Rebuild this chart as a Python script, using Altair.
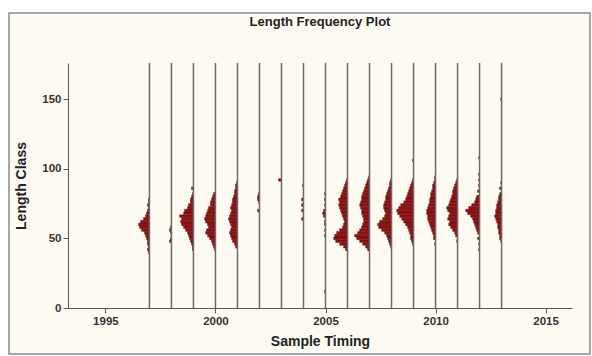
import altair as alt
import pandas as pd

# Sample years (vertical reference lines)
years = list(range(1997, 2014))

# Length-frequency per sample year: (length class, frequency)
lf_1997 = [(40,1),(42,2),(44,1),(46,2),(48,2),(50,3),(52,4),(54,5),(56,8),(58,10),(60,11),(62,9),(64,6),(66,4),(68,3),(70,2),(72,1),(74,2),(76,1),(78,1)]
lf_1998 = [(48,2),(50,1),(54,1),(56,2),(58,1)]
lf_1999 = [(42,1),(44,1),(46,2),(48,3),(50,4),(52,5),(54,6),(56,8),(58,10),(60,12),(62,13),(64,12),(66,14),(68,10),(70,9),(72,6),(74,5),(76,3),(78,3),(80,2),(82,1),(86,2)]
lf_2000 = [(42,1),(44,2),(46,3),(48,4),(50,6),(52,8),(54,10),(56,9),(58,7),(60,8),(62,10),(64,11),(66,10),(68,9),(70,8),(72,7),(74,5),(76,5),(78,4),(80,3),(82,2)]
lf_2001 = [(44,2),(46,3),(48,5),(50,6),(52,7),(54,8),(56,7),(58,6),(60,7),(62,8),(64,9),(66,8),(68,7),(70,6),(72,7),(74,6),(76,5),(78,5),(80,4),(82,3),(84,3),(86,2),(88,2),(90,1)]
lf_2002 = [(70,2),(76,1),(78,2),(80,2),(82,1)]
lf_2003 = [(92,3)]
lf_2004 = [(64,2),(70,2),(74,2),(78,2),(88,1)]
lf_2005 = [(12,1),(52,1),(56,1),(60,1),(62,1),(66,2),(68,3),(70,2),(74,1),(78,1),(82,1)]
lf_2006 = [(42,2),(44,4),(46,8),(48,12),(50,14),(52,13),(54,11),(56,8),(58,5),(60,4),(62,3),(64,4),(66,5),(68,6),(70,7),(72,8),(74,9),(76,8),(78,9),(80,7),(82,6),(84,5),(86,4),(88,3),(90,2),(92,1)]
lf_2007 = [(42,2),(44,4),(46,7),(48,10),(50,13),(52,15),(54,12),(56,10),(58,8),(60,7),(62,6),(64,6),(66,7),(68,8),(70,8),(72,9),(74,10),(76,9),(78,8),(80,8),(82,7),(84,6),(86,5),(88,4),(90,3),(92,2),(94,1)]
lf_2008 = [(44,1),(46,2),(48,3),(50,4),(52,5),(54,7),(56,10),(58,13),(60,14),(62,12),(64,9),(66,7),(68,6),(70,7),(72,8),(74,8),(76,7),(78,6),(80,6),(82,5),(84,4),(86,3),(88,2),(90,2),(92,1)]
lf_2009 = [(46,1),(48,2),(50,3),(52,3),(54,4),(56,5),(58,6),(60,8),(62,10),(64,12),(66,14),(68,16),(70,17),(72,15),(74,13),(76,10),(78,8),(80,7),(82,6),(84,5),(86,4),(88,3),(90,2),(92,1),(106,1)]
lf_2010 = [(46,1),(50,2),(52,2),(54,3),(56,4),(58,5),(60,6),(62,7),(64,8),(66,8),(68,9),(70,9),(72,8),(74,7),(76,6),(78,6),(80,5),(82,5),(84,4),(86,3),(88,3),(90,2),(92,1),(94,1)]
lf_2011 = [(48,1),(52,2),(54,3),(56,5),(58,7),(60,9),(62,8),(64,10),(66,9),(68,8),(70,10),(72,11),(74,9),(76,8),(78,7),(80,6),(82,5),(84,5),(86,4),(88,3),(90,2),(92,1)]
lf_2012 = [(42,1),(46,1),(50,2),(54,2),(56,3),(58,4),(60,5),(62,6),(64,7),(66,9),(68,12),(70,14),(72,11),(74,8),(76,5),(78,4),(80,3),(84,2),(88,1),(92,1),(96,1),(108,1)]
lf_2013 = [(48,1),(50,2),(52,2),(54,3),(56,3),(58,4),(60,4),(62,5),(64,6),(66,7),(68,6),(70,6),(72,5),(74,5),(76,4),(78,3),(80,3),(82,2),(86,2),(90,1),(150,1)]

samples = {
    1997: lf_1997, 1998: lf_1998, 1999: lf_1999, 2000: lf_2000, 2001: lf_2001,
    2002: lf_2002, 2003: lf_2003, 2004: lf_2004, 2005: lf_2005, 2006: lf_2006,
    2007: lf_2007, 2008: lf_2008, 2009: lf_2009, 2010: lf_2010, 2011: lf_2011,
    2012: lf_2012, 2013: lf_2013,
}

x_ticks = [1995, 2000, 2005, 2010, 2015]
y_ticks = [0, 50, 100, 150]

rows = []
for yr, lst in samples.items():
    for length, freq in lst:
        rows.append({"year": yr, "length": length, "freq": freq})
df = pd.DataFrame(rows)
lines_df = pd.DataFrame({"year": years})

XDOM = [1993.3, 2016.2]
YDOM = [0, 176]
FONT = "Liberation Sans"
CREAM = "#fdfaf2"

xs = alt.Scale(domain=XDOM, nice=False, zero=False)
ys = alt.Scale(domain=YDOM, nice=False)

frame = alt.Chart(pd.DataFrame({"k": [0]})).mark_rect(
    fill=CREAM, stroke="#8a8a8a", strokeWidth=1.5, clip=False
).encode(
    x=alt.value(-59), x2=alt.value(522),
    y=alt.value(-50), y2=alt.value(291),
)

bars = alt.Chart(df).transform_calculate(
    x0="datum.year - datum.freq * 0.045",
    y0="datum.length - 1",
    y1="datum.length + 1",
).mark_rect(color="#941111", stroke="#360505", strokeWidth=0.3).encode(
    x=alt.X("x0:Q", scale=xs, title="Sample Timing",
            axis=alt.Axis(values=x_ticks, format="d", grid=False, zindex=1)),
    x2="year:Q",
    y=alt.Y("y0:Q", scale=ys, title="Length Class",
            axis=alt.Axis(values=y_ticks, grid=False, zindex=1)),
    y2="y1:Q",
)

rules = alt.Chart(lines_df).mark_rule(color="#6a6a6a", strokeWidth=1.5).encode(
    x=alt.X("year:Q", scale=xs),
    y=alt.datum(0),
    y2=alt.datum(176),
)

chart = alt.layer(frame, bars, rules).properties(
    width=504,
    height=245,
    autosize=alt.AutoSizeParams(type="none"),
    padding={"left": 68, "top": 63, "right": 20, "bottom": 48},
    background="white",
    title=alt.TitleParams("Length Frequency Plot", font=FONT, fontSize=13,
                          fontWeight="bold", color="#222", anchor="middle",
                          offset=0, dy=17),
).configure_view(stroke=None).configure_axis(
    labelFont=FONT, labelFontSize=11.5, labelFontWeight="bold", labelColor="#333",
    titleFont=FONT, titleFontSize=14, titleFontWeight="bold", titleColor="#222",
    domainColor="#555", tickColor="#555", tickSize=5, labelPadding=2,
).configure_axisY(titlePadding=13).configure_axisX(titlePadding=8)

chart.save("out.html", embed_options={"renderer": "svg", "actions": False})
